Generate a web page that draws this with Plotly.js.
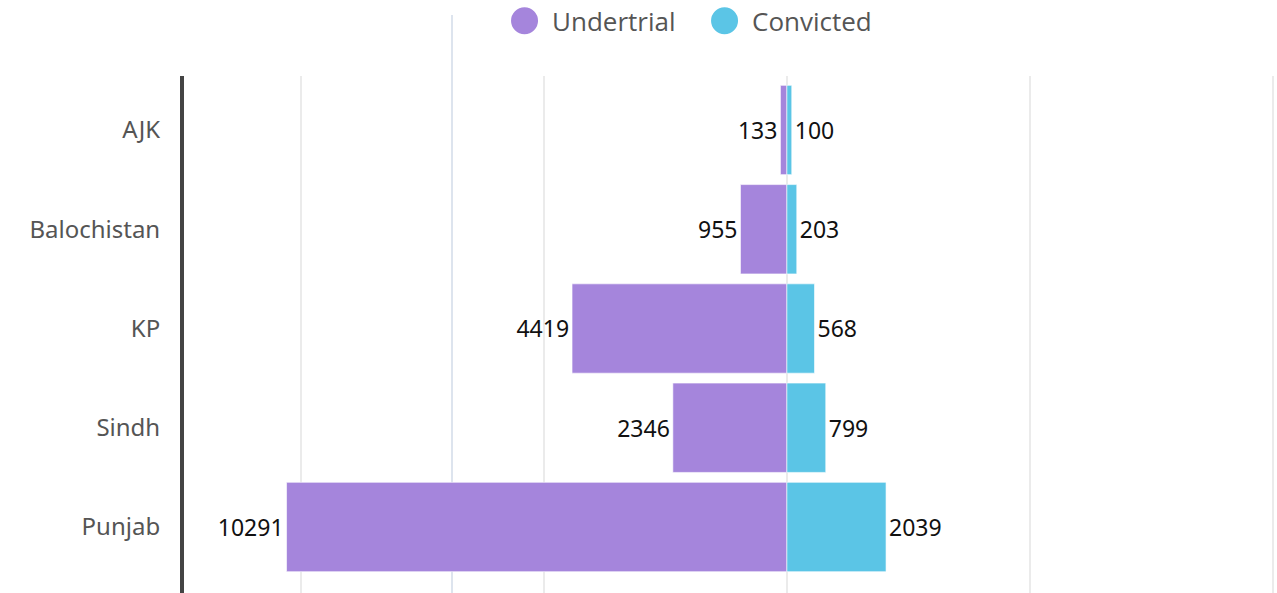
<!DOCTYPE html>
<html>
<head>
<meta charset="utf-8">
<script src="https://cdn.plot.ly/plotly-3.0.1.min.js"></script>
<style>html,body{margin:0;padding:0;background:#fff;}#chart{width:1277px;height:593px;}</style>
</head>
<body>
<div id="chart"></div>
<script>
const regions = ["AJK", "Balochistan", "KP", "Sindh", "Punjab"];
const undertrial = [133, 955, 4419, 2346, 10291];
const convicted = [100, 203, 568, 799, 2039];
const seriesNames = ["Undertrial", "Convicted"];
const seriesColors = ["#a585dc", "#5bc5e6"];

const labelFont = {family: "Noto Sans, Open Sans, sans-serif", size: 23, color: "#111"};

const traces = [
  {
    type: "bar", orientation: "h", name: seriesNames[0],
    y: regions, x: undertrial.map(v => -v),
    text: undertrial.map(String), textposition: "outside", cliponaxis: false,
    textfont: labelFont,
    marker: {color: seriesColors[0], line: {color: "#fff", width: 0.6}},
    showlegend: false, hoverinfo: "y+text"
  },
  {
    type: "bar", orientation: "h", name: seriesNames[1],
    y: regions, x: convicted,
    text: convicted.map(String), textposition: "outside", cliponaxis: false,
    textfont: labelFont,
    marker: {color: seriesColors[1], line: {color: "#fff", width: 0.6}},
    showlegend: false, hoverinfo: "y+text"
  }
];

// custom legend (big round markers)
const legendX = [0.2992, 0.4822];
const legendY = 1.107;
const legendShapes = [];
const legendAnn = [];
seriesNames.forEach((n, i) => {
  legendShapes.push({
    type: "circle", xref: "paper", yref: "paper",
    xsizemode: "pixel", ysizemode: "pixel",
    xanchor: legendX[i], yanchor: legendY,
    x0: 0, x1: 27, y0: -13.5, y1: 13.5,
    fillcolor: seriesColors[i], line: {width: 0}
  });
  legendAnn.push({
    xref: "paper", yref: "paper", x: legendX[i], y: legendY,
    xanchor: "left", yanchor: "middle", xshift: 39,
    text: n, showarrow: false,
    font: {family: "Open Sans, sans-serif", size: 26, color: "#555"}
  });
});

const layout = {
  width: 1277, height: 593,
  margin: {l: 184, r: 0, t: 76, b: 0},
  paper_bgcolor: "#fff", plot_bgcolor: "#fff",
  barmode: "relative", bargap: 0.1,
  showlegend: false,
  xaxis: {
    range: [-12400, 10080], dtick: 5000, tick0: 0,
    showgrid: true, gridcolor: "#ebebeb", gridwidth: 2,
    zeroline: false, showticklabels: false, showline: false, fixedrange: true
  },
  yaxis: {
    type: "category", range: [4.665, -0.544],
    showgrid: false, zeroline: false,
    showline: true, linecolor: "#444", linewidth: 4,
    ticks: "", ticklabelstandoff: 15,
    tickfont: {family: "Noto Sans, Open Sans, sans-serif", size: 24, color: "#555"},
    fixedrange: true
  },
  shapes: [
    {type: "line", xref: "paper", yref: "paper", x0: 0.2452, x1: 0.2452, y0: 0, y1: 1.118,
     line: {color: "#dde4ee", width: 2}, layer: "below"}
  ].concat(legendShapes),
  annotations: legendAnn
};

Plotly.newPlot("chart", traces, layout, {displayModeBar: false, staticPlot: true});
</script>
</body>
</html>
